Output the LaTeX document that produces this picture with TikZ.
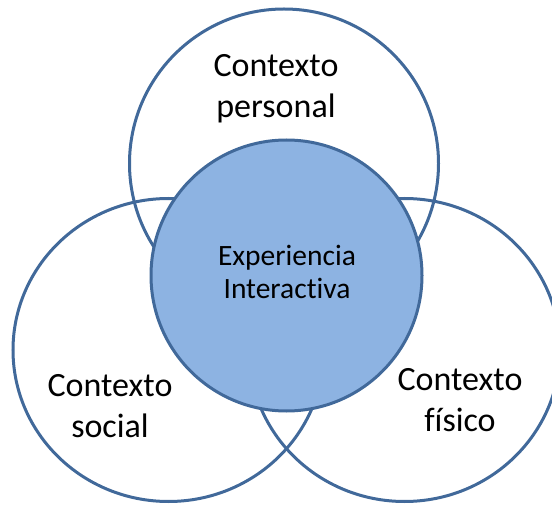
\documentclass[tikz,border=0pt]{standalone}
\usepackage{fontspec}
\setmainfont{Carlito}[RawFeature={-liga;-clig;-dlig}]
\usetikzlibrary{shapes.geometric}
\definecolor{ringline}{HTML}{41699A}
\definecolor{corefill}{HTML}{8DB3E2}

\begin{document}
\begin{tikzpicture}[x=1pt,y=1pt,
ring/.style={draw=ringline,line width=3pt,ellipse,inner sep=0pt},
lbl/.style={align=center,font={\fontsize{34}{41}\selectfont}},
corelbl/.style={align=center,font={\fontsize{29.5}{32.5}\selectfont}}]
\clip (0,0) rectangle (552,504);
% three context rings, open so their lines cross
\node[ring,minimum width=309pt,minimum height=309pt] (personal) at (284,340.5) {};
\node[ring,minimum width=311pt,minimum height=303pt] (social) at (168.5,154) {};
\node[ring,minimum width=311pt,minimum height=303pt] (fisico) at (404.5,154) {};
% filled core on top
\node[ring,circle,fill=corefill,minimum size=271pt] (core) at (286.5,228.5) {};
\node[lbl] (personallbl) at (276,415) {Contexto\\personal};
\node[lbl] (sociallbl) at (110,98) {Contexto\\social};
\node[lbl] (fisicolbl) at (460,103.5) {Contexto\\físico};
\node[corelbl] (corelbl) at (287,232) {Experiencia\\Interactiva};
\end{tikzpicture}
\end{document}
